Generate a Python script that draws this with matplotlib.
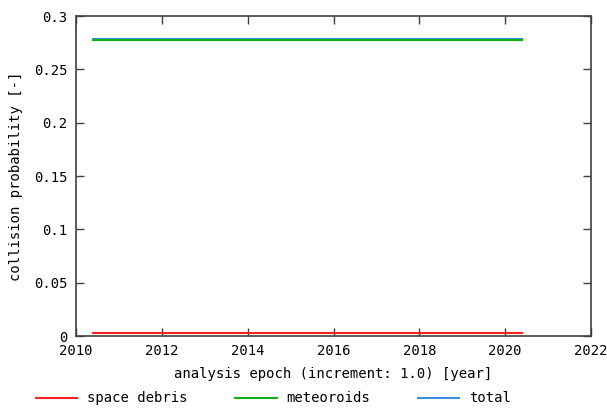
import matplotlib.pyplot as plt

# analysis epochs (yearly increment) and collision probabilities
epoch = [2010.4, 2011.4, 2012.4, 2013.4, 2014.4, 2015.4, 2016.4, 2017.4, 2018.4, 2019.4, 2020.4]
space_debris = [0.0025] * 11
meteoroids = [0.2775] * 11
total = [0.2785] * 11

plt.rcParams['font.family'] = ['DejaVu Sans Mono']
plt.rcParams['font.size'] = 10

fig = plt.figure(figsize=(6.07, 4.11), dpi=100)
ax = fig.add_axes([76 / 607, 1 - 336 / 411, (591 - 76) / 607, (336 - 16) / 411])

ax.plot(epoch, space_debris, color='#ff2020', lw=1.5, label='space debris')
ax.plot(epoch, total, color='#3a8ee8', lw=1.5, label='total')
ax.plot(epoch, meteoroids, color='#10b010', lw=1.5, label='meteoroids')

ax.set_xlim(2010, 2022)
ax.set_ylim(0, 0.3)
ax.set_xticks([2010, 2012, 2014, 2016, 2018, 2020, 2022])
ax.set_yticks([0, 0.05, 0.1, 0.15, 0.2, 0.25, 0.3])
ax.set_yticklabels(['0', '0.05', '0.1', '0.15', '0.2', '0.25', '0.3'])
ax.tick_params(direction='in', length=6, width=1, top=True, right=True, color='#404040', pad=6)
for s in ax.spines.values():
    s.set_color('#404040')
    s.set_linewidth(1.2)

ax.set_xlabel('analysis epoch (increment: 1.0) [year]', labelpad=6)
ax.set_ylabel('collision probability [-]', labelpad=8)

h, l = ax.get_legend_handles_labels()
order = [0, 2, 1]
fig.legend([h[i] for i in order], [l[i] for i in order], loc='lower left',
           bbox_to_anchor=(30 / 607, 0.0), borderaxespad=0, ncol=3, frameon=False,
           handlelength=3.0, columnspacing=3.4, handletextpad=0.72)

fig.savefig('out.png', dpi=100)
